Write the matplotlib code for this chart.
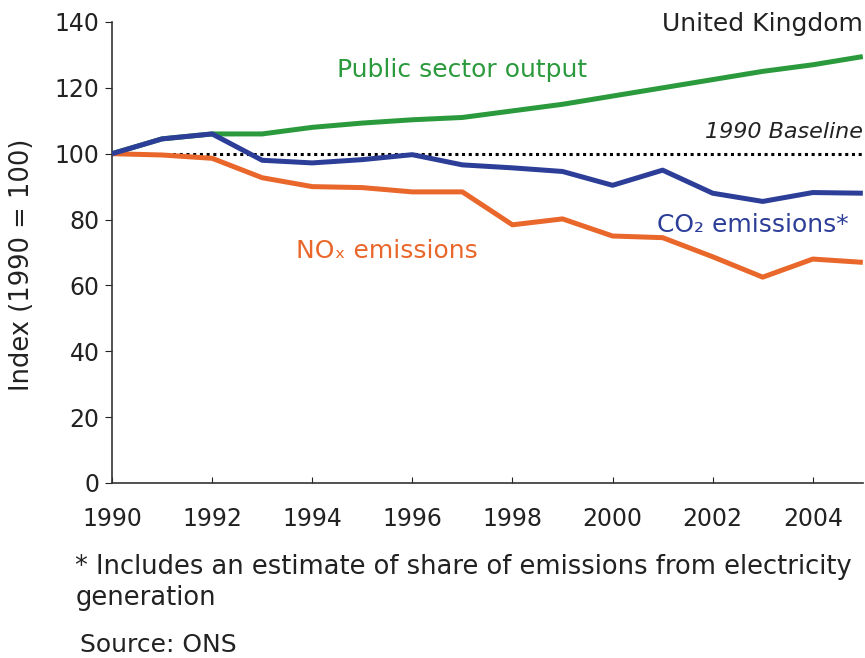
import matplotlib.pyplot as plt

# Index values, 1990 = 100
years = list(range(1990, 2006))
public_output = [100, 104.5, 106, 106, 108, 109.3, 110.3, 111, 113, 115, 117.5, 120, 122.5, 125, 127, 129.5]
co2 = [100, 104.5, 106, 98, 97.2, 98.2, 99.7, 96.6, 95.7, 94.6, 90.4, 95, 88, 85.5, 88.2, 88]
nox = [100, 99.6, 98.6, 92.7, 90, 89.7, 88.4, 88.4, 78.4, 80.2, 75, 74.5, 68.7, 62.5, 68, 67]

GREEN = '#2b9a3d'
BLUE = '#2c3e98'
ORANGE = '#e9672b'
TEXT = '#222222'

plt.rcParams['font.family'] = 'DejaVu Sans'

fig = plt.figure(figsize=(8.65, 6.58), dpi=100)
ax = fig.add_axes([0.1295, 0.266, 0.868, 0.7006])

ax.axhline(100, color='black', linewidth=2.2, linestyle=(0, (1, 1.2)), zorder=1)
ax.plot(years, public_output, color=GREEN, linewidth=3.6, solid_capstyle='butt', zorder=2)
ax.plot(years, nox, color=ORANGE, linewidth=3.6, solid_capstyle='butt', zorder=2)
ax.plot(years, co2, color=BLUE, linewidth=3.6, solid_capstyle='butt', zorder=3)

ax.set_xlim(1990, 2005)
ax.set_ylim(0, 140)
ax.set_xticks(range(1990, 2005, 2))
ax.set_yticks(range(0, 141, 20))
for s in ['top', 'right']:
    ax.spines[s].set_visible(False)
for s in ['left', 'bottom']:
    ax.spines[s].set_color('#333333')
    ax.spines[s].set_linewidth(1.2)
ax.tick_params(axis='x', direction='in', length=4, labelsize=17, colors=TEXT, pad=17)
ax.tick_params(axis='y', direction='out', length=5, labelsize=17, colors=TEXT, pad=4)
ax.set_ylabel('Index (1990 = 100)', fontsize=18.5, color=TEXT)
ax.yaxis.set_label_coords(-0.1025, 0.473)

ax.text(2005, 139.5, 'United Kingdom', ha='right', va='center', fontsize=18, color=TEXT)
ax.text(1997.0, 125.4, 'Public sector output', ha='center', va='center', fontsize=18, color=GREEN)
ax.text(2005, 106.6, '1990 Baseline', ha='right', va='center', fontsize=16, style='italic', color=TEXT)
ax.text(2002.8, 78.3, 'CO\u2082 emissions*', ha='center', va='center', fontsize=18, color=BLUE)
ax.text(1995.5, 70.4, 'NO\u2093 emissions', ha='center', va='center', fontsize=18, color=ORANGE)

fig.text(0.087, 0.138, '* Includes an estimate of share of emissions from electricity',
         fontsize=18.5, color=TEXT, va='center')
fig.text(0.087, 0.091, 'generation', fontsize=18.5, color=TEXT, va='center')
fig.text(0.092, 0.019, 'Source: ONS', fontsize=18, color=TEXT, va='center')

fig.savefig('out.png', dpi=100, facecolor='white')
